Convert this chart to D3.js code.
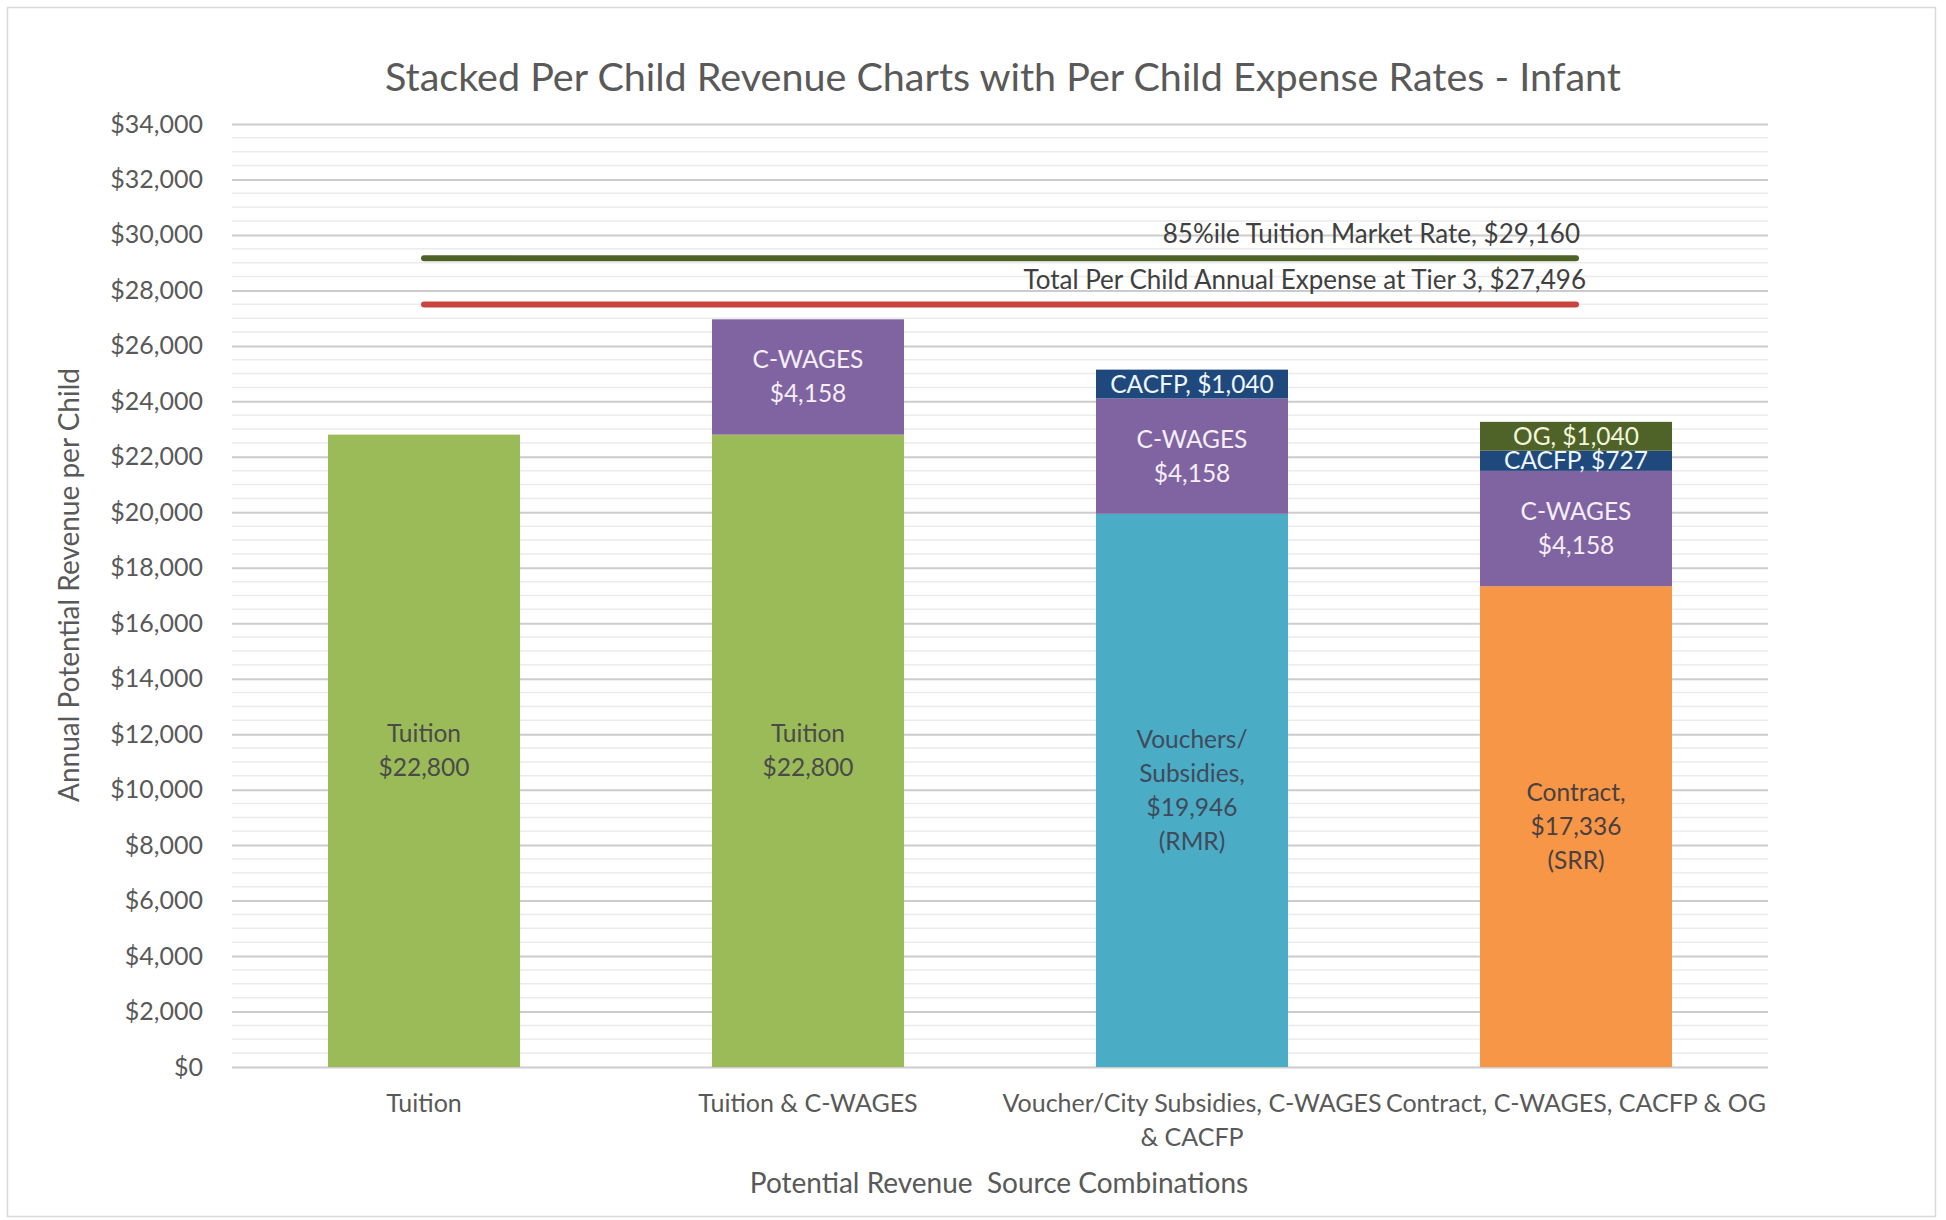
<!DOCTYPE html>
<html>
<head>
<meta charset="utf-8">
<script src="https://cdn.jsdelivr.net/npm/d3@7"></script>
<style>
  html, body { margin: 0; padding: 0; background: #ffffff; }
  svg { display: block; }
  text { font-family: Lato, "Open Sans", sans-serif; }
</style>
</head>
<body>
<svg id="chart" width="1946" height="1220"></svg>
<script>
// Revenue source combinations (x categories), each possibly wrapped on two lines
const categories = ["Tuition", "Tuition & C-WAGES", "Voucher/City Subsidies, C-WAGES & CACFP", "Contract, C-WAGES, CACFP & OG"];
const categoryLines = [["Tuition"], ["Tuition & C-WAGES"], ["Voucher/City Subsidies, C-WAGES", "& CACFP"], ["Contract, C-WAGES, CACFP & OG"]];

// Stacked revenue components per child, one value per category
const tuition  = [22800, 22800, 0, 0];
const vouchers = [0, 0, 19946, 0];
const contract = [0, 0, 0, 17336];
const cwages   = [0, 4158, 4158, 4158];
const cacfp    = [0, 0, 1040, 727];
const og       = [0, 0, 0, 1040];

// Horizontal reference rates
const refNames  = ["85%ile Tuition Market Rate", "Total Per Child Annual Expense at Tier 3"];
const refValues = [29160, 27496];

// Y axis ticks
const yTicks = d3.range(0, 34001, 2000);
const yMinorTicks = d3.range(0, 34001, 500);

const fmt = d3.format("$,");

const seriesKeys = ["tuition", "vouchers", "contract", "cwages", "cacfp", "og"];
const seriesData = { tuition, vouchers, contract, cwages, cacfp, og };
const seriesColor = {
  tuition: "#9BBB59", vouchers: "#4BACC6", contract: "#F79646",
  cwages: "#8064A2", cacfp: "#1F497D", og: "#4F6228"
};
const labelColor = {
  tuition: "#4a4a4a", vouchers: "#3f4a5a", contract: "#4a4040",
  cwages: "#f6eef6", cacfp: "#eef6fa", og: "#f2f6dc"
};
const labelLines = {
  tuition:  v => ["Tuition", fmt(v)],
  vouchers: v => ["Vouchers/", "Subsidies,", fmt(v), "(RMR)"],
  contract: v => ["Contract,", fmt(v), "(SRR)"],
  cwages:   v => ["C-WAGES", fmt(v)],
  cacfp:    v => ["CACFP, " + fmt(v)],
  og:       v => ["OG, " + fmt(v)]
};

const rows = categories.map((c, i) => {
  const r = { category: c };
  seriesKeys.forEach(k => r[k] = seriesData[k][i]);
  return r;
});

const svg = d3.select("#chart");

// Outer chart border
svg.append("rect")
  .attr("x", 7.5).attr("y", 7.5)
  .attr("width", 1928).attr("height", 1209)
  .attr("fill", "#ffffff").attr("stroke", "#d9d9d9").attr("stroke-width", 1.5);

const plot = { left: 232, right: 1768, top: 124, bottom: 1067 };

const x = d3.scaleBand()
  .domain(categories)
  .range([plot.left, plot.right])
  .paddingInner(0.5)
  .paddingOuter(0.25);

const y = d3.scaleLinear()
  .domain([0, 34000])
  .range([plot.bottom, plot.top]);

// Minor gridlines
svg.append("g")
  .selectAll("line")
  .data(yMinorTicks.filter(v => v % 2000 !== 0))
  .join("line")
  .attr("x1", plot.left).attr("x2", plot.right)
  .attr("y1", d => y(d)).attr("y2", d => y(d))
  .attr("stroke", "#ebebeb").attr("stroke-width", 1.5);

// Y axis with major gridlines
const yAxis = d3.axisLeft(y)
  .tickValues(yTicks)
  .tickFormat(fmt)
  .tickSize(-(plot.right - plot.left))
  .tickPadding(29);

const gy = svg.append("g")
  .attr("transform", `translate(${plot.left},0)`)
  .call(yAxis);
gy.select(".domain").remove();
gy.selectAll(".tick line").attr("stroke", "#cccccc").attr("stroke-width", 2);
gy.selectAll(".tick text")
  .attr("fill", "#595959")
  .style("font-size", "25px")
  .style("font-family", "Lato, sans-serif");

// Stacked bars
const stack = d3.stack().keys(seriesKeys);
const stacked = stack(rows);

const layers = svg.append("g")
  .selectAll("g")
  .data(stacked)
  .join("g")
  .attr("fill", d => seriesColor[d.key]);

layers.selectAll("rect")
  .data(d => d.map(s => ({ key: d.key, s })))
  .join("rect")
  .filter(d => d.s[1] - d.s[0] > 0)
  .attr("x", d => x(d.s.data.category))
  .attr("width", x.bandwidth())
  .attr("y", d => y(d.s[1]))
  .attr("height", d => y(d.s[0]) - y(d.s[1]));

// Segment labels
const lineH = 34;
const labelItems = [];
stacked.forEach(layer => {
  layer.forEach(s => {
    const v = s[1] - s[0];
    if (v > 0) labelItems.push({ key: layer.key, v, s });
  });
});

const lbl = svg.append("g")
  .selectAll("text")
  .data(labelItems)
  .join("text")
  .attr("text-anchor", "middle")
  .attr("fill", d => labelColor[d.key])
  .style("font-size", "24.5px")
  .attr("x", d => x(d.s.data.category) + x.bandwidth() / 2)
  .attr("y", d => y((d.s[0] + d.s[1]) / 2));

lbl.each(function(d) {
  const lines = labelLines[d.key](d.v);
  const n = lines.length;
  d3.select(this).selectAll("tspan")
    .data(lines)
    .join("tspan")
    .attr("x", x(d.s.data.category) + x.bandwidth() / 2)
    .attr("dy", (t, i) => i === 0 ? (-(n - 1) / 2 * lineH + 8.5) : lineH)
    .text(t => t);
});

// Reference lines across the bars
const xStart = x(categories[0]) + x.bandwidth() / 2;
const xEnd = x(categories[categories.length - 1]) + x.bandwidth() / 2;
const refColors = ["#4F6228", "#C9443F"];

const refs = svg.append("g")
  .selectAll("g")
  .data(refValues.map((v, i) => ({ v, name: refNames[i], color: refColors[i] })))
  .join("g");

refs.append("line")
  .attr("x1", xStart).attr("x2", xEnd)
  .attr("y1", d => y(d.v)).attr("y2", d => y(d.v))
  .attr("stroke", d => d.color)
  .attr("stroke-width", 6)
  .attr("stroke-linecap", "round");

refs.append("text")
  .attr("x", (d, i) => xEnd + (i === 0 ? 4 : 10))
  .attr("y", d => y(d.v) - 15)
  .attr("text-anchor", "end")
  .attr("fill", "#404040")
  .style("font-size", "26px")
  .text(d => `${d.name}, ${fmt(d.v)}`);

// Category labels
const xl = svg.append("g")
  .selectAll("text")
  .data(categories)
  .join("text")
  .attr("text-anchor", "middle")
  .attr("fill", "#595959")
  .style("font-size", "25px")
  .attr("x", d => x(d) + x.bandwidth() / 2)
  .attr("y", 1112);

xl.each(function(d, i) {
  d3.select(this).selectAll("tspan")
    .data(categoryLines[i])
    .join("tspan")
    .attr("x", x(d) + x.bandwidth() / 2)
    .attr("dy", (t, j) => j === 0 ? 0 : 34)
    .text(t => t);
});

// Axis titles
svg.append("text")
  .attr("x", 999).attr("y", 1193)
  .attr("text-anchor", "middle")
  .attr("fill", "#595959")
  .style("font-size", "28px")
  .attr("xml:space", "preserve")
  .style("white-space", "pre")
  .text("Potential Revenue  Source Combinations");

svg.append("text")
  .attr("transform", "translate(79,585) rotate(-90)")
  .attr("text-anchor", "middle")
  .attr("fill", "#595959")
  .style("font-size", "28px")
  .text("Annual Potential Revenue per Child");

// Chart title
svg.append("text")
  .attr("x", 1003).attr("y", 91)
  .attr("text-anchor", "middle")
  .attr("fill", "#595959")
  .style("font-size", "39.5px")
  .text("Stacked Per Child Revenue Charts with Per Child Expense Rates - Infant");
</script>
</body>
</html>
